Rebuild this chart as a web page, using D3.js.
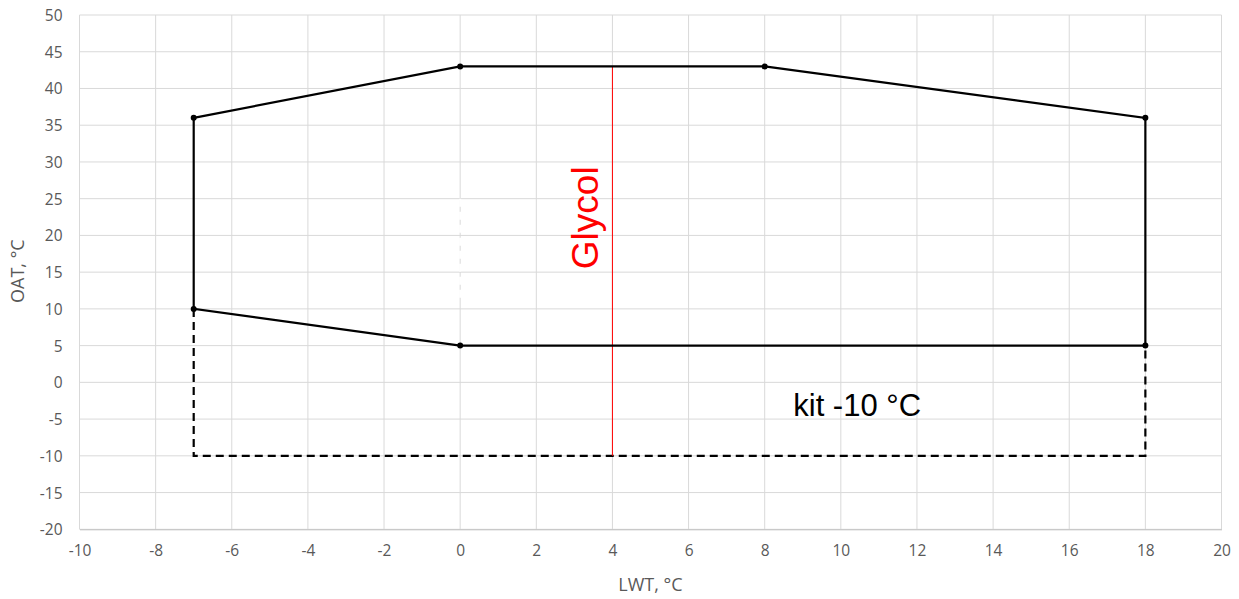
<!DOCTYPE html>
<html>
<head>
<meta charset="utf-8">
<script src="https://cdn.jsdelivr.net/npm/d3@7"></script>
<style>
  body { margin: 0; background: #fff; }
  svg { display: block; }
</style>
</head>
<body>
<svg id="chart"></svg>
<script>
// envelope (solid), extension with kit (dashed), glycol limit (red)
const envelope = [[-7, 36], [0, 43], [8, 43], [18, 36], [18, 5], [0, 5], [-7, 10], [-7, 36]];
const kitLine = [[-7, 10], [-7, -10], [18, -10], [18, 5]];
const glycolLine = [[4, 43], [4, -10]];
const hiddenLine = [[0, 25], [0, 11]];
const xTicks = d3.range(-10, 21, 2);
const yTicks = d3.range(-20, 51, 5);

let margin = {top: 15, right: 17.5, bottom: 69.7, left: 79.5};
let width = 1239, height = 599;
let innerW = width - margin.left - margin.right,
    innerH = height - margin.top - margin.bottom;

let x = d3.scaleLinear().domain([-10, 20]).range([0, innerW]);
let y = d3.scaleLinear().domain([-20, 50]).range([innerH, 0]);

let svg = d3.select('#chart').attr('width', width).attr('height', height);
let g = svg.append('g').attr('transform', `translate(${margin.left},${margin.top})`);

// grid
g.append('g').selectAll('line').data(xTicks).enter().append('line')
    .attr('x1', d => x(d)).attr('x2', d => x(d))
    .attr('y1', 0).attr('y2', innerH)
    .attr('stroke', '#d9d9d9').attr('stroke-width', 1);
g.append('g').selectAll('line').data(yTicks).enter().append('line')
    .attr('x1', 0).attr('x2', innerW)
    .attr('y1', d => y(d)).attr('y2', d => y(d))
    .attr('stroke', '#d9d9d9').attr('stroke-width', 1);

// axes (labels only)
let xAxis = g.append('g').attr('transform', `translate(0,${innerH})`)
    .call(d3.axisBottom(x).tickValues(xTicks).tickFormat(d => String(d)).tickSize(0).tickPadding(16));
let yAxis = g.append('g')
    .call(d3.axisLeft(y).tickValues(yTicks).tickFormat(d => String(d)).tickSize(0).tickPadding(17));
[xAxis, yAxis].forEach(a => {
  a.select('.domain').attr('stroke', '#bfbfbf');
  a.selectAll('text').attr('fill', '#595959')
    .style('font-family', 'Open Sans, sans-serif').style('font-size', '15.5px');
});
yAxis.select('.domain').remove();
yAxis.selectAll('text').attr('dy', '0.35em');

let line = d3.line().x(d => x(d[0])).y(d => y(d[1]));

g.append('path').datum(hiddenLine).attr('d', line)
    .attr('fill', 'none').attr('stroke', '#fff').attr('stroke-width', 2)
    .attr('stroke-dasharray', '8,5');

g.append('path').datum(kitLine).attr('d', line)
    .attr('fill', 'none').attr('stroke', '#000').attr('stroke-width', 2.2)
    .attr('stroke-dasharray', '8,5');

g.append('path').datum(glycolLine).attr('d', line)
    .attr('fill', 'none').attr('stroke', '#ff0000').attr('stroke-width', 1);

g.append('path').datum(envelope).attr('d', line)
    .attr('fill', 'none').attr('stroke', '#000').attr('stroke-width', 2.2);

g.selectAll('circle.pt').data(envelope.slice(0, -1)).enter().append('circle')
    .attr('class', 'pt')
    .attr('cx', d => x(d[0])).attr('cy', d => y(d[1]))
    .attr('r', 3).attr('fill', '#000');

// annotations
g.append('text')
    .attr('transform', `translate(${x(4) - 14},${y(22.4)}) rotate(-90)`)
    .attr('text-anchor', 'middle')
    .attr('fill', '#ff0000')
    .style('font-family', 'Liberation Sans, Arial, sans-serif')
    .style('font-size', '37px')
    .text('Glycol');

g.append('text')
    .attr('x', x(8.75)).attr('y', y(-4.6))
    .attr('fill', '#000')
    .style('font-family', 'Liberation Sans, Arial, sans-serif')
    .style('font-size', '31px')
    .text('kit -10 °C');

// axis titles
svg.append('text')
    .attr('x', margin.left + innerW / 2 - 0).attr('y', 591)
    .attr('text-anchor', 'middle').attr('fill', '#595959')
    .style('font-family', 'Open Sans, sans-serif').style('font-size', '18px')
    .text('LWT, °C');

svg.append('text')
    .attr('transform', `translate(24,${margin.top + innerH / 2 - 1}) rotate(-90)`)
    .attr('text-anchor', 'middle').attr('fill', '#595959')
    .style('font-family', 'Open Sans, sans-serif').style('font-size', '18px')
    .text('OAT, °C');
</script>
</body>
</html>
